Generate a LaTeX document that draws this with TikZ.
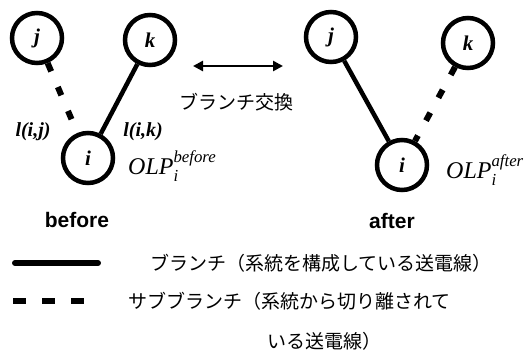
\documentclass[tikz,border=0pt]{standalone}
\usepackage{fontspec}
\usepackage{amsmath}
\setmainfont{Liberation Serif}
\setsansfont{Liberation Sans}
\newfontfamily\jpfont{Noto Sans CJK JP}
\usetikzlibrary{arrows.meta, positioning}

\begin{document}
\begin{tikzpicture}[x=1pt, y=-1pt,
    bus/.style={draw, circle, line width=4.5pt, minimum size=50pt, inner sep=0pt, font=\fontsize{21}{21}\selectfont\bfseries\itshape},
    branch/.style={line width=4.5pt},
    subbranch/.style={line width=6pt, dash pattern=on 9pt off 17pt},
    linklabel/.style={font=\fontsize{20}{22}\selectfont\bfseries\itshape},
    olplabel/.style={font=\fontsize{24}{26}\selectfont\itshape, anchor=west, inner sep=0pt},
    caselabel/.style={font=\fontsize{21}{23}\selectfont\sffamily\bfseries},
    jptext/.style={font=\fontsize{19}{21}\selectfont\jpfont, anchor=west, inner sep=0pt}
]

\useasboundingbox (0,0) rectangle (525,360);

\node[bus] (jBefore) at (37,38) {j};
\node[bus] (kBefore) at (150,40) {k};
\node[bus] (iBefore) at (88,158) {i};
\node[bus] (jAfter) at (331,37) {j};
\node[bus] (kAfter) at (468,43) {k};
\node[bus] (iAfter) at (402,165) {i};

\draw[subbranch] (jBefore) -- (iBefore);
\draw[branch] (kBefore) -- (iBefore);
\draw[branch] (jAfter) -- (iAfter);
\draw[subbranch] (kAfter) -- (iAfter);

\node[linklabel] (lij) at (33,132) {l(i,j)};
\node[linklabel] (lik) at (143,132) {l(i,k)};
\node[olplabel] (olpBefore) at (128,166) {OLP$_{\textit{i}}^{\textit{before}}$};
\node[olplabel] (olpAfter) at (446,170) {OLP$_{\textit{i}}^{\textit{after}}$};

\coordinate (swapLeft) at (193,66);
\coordinate (swapRight) at (283,66);
\draw[line width=2.5pt, {Triangle[length=10pt, width=10pt]}-{Triangle[length=10pt, width=10pt]}] (swapLeft) -- (swapRight);
\node[jptext, anchor=center] (swapLabel) at (236,102) {ブランチ交換};

\node[caselabel] (beforeLabel) at (77,220) {before};
\node[caselabel] (afterLabel) at (392,221) {after};

\coordinate (solidStart) at (15,263);
\coordinate (solidEnd) at (98,263);
\draw[branch, line width=6pt, line cap=round] (solidStart) -- (solidEnd);
\node[jptext] (branchText) at (150,263) {ブランチ（系統を構成している送電線）};

\coordinate (dashStart) at (13,301);
\coordinate (dashEnd) at (84,301);
\draw[line width=5.5pt, dash pattern=on 13pt off 16pt] (dashStart) -- (dashEnd);
\node[jptext] (subText) at (128,301) {サブブランチ（系統から切り離されて};
\node[jptext] (subTextCont) at (267,341) {いる送電線）};

\end{tikzpicture}
\end{document}
